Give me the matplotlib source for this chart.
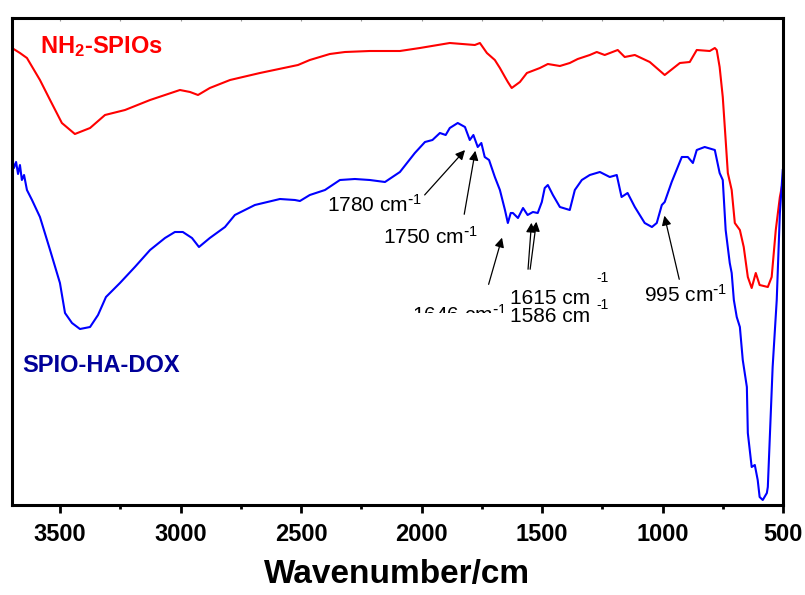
import matplotlib
matplotlib.use("Agg")
import matplotlib.pyplot as plt
from matplotlib.patches import Rectangle
from matplotlib.ticker import MultipleLocator

plt.rcParams['font.family'] = ['Liberation Sans', 'DejaVu Sans']
plt.rcParams['mathtext.default'] = 'regular'

# NH2-SPIOs spectrum (wavenumber, transmittance a.u.)
red_wn = [3700, 3667, 3638, 3584, 3542, 3493, 3439, 3376, 3314, 3231, 3127, 3003, 2961, 2928,
          2879, 2795, 2671, 2513, 2464, 2381, 2318, 2215, 2090, 2007, 1883, 1779, 1758, 1729,
          1696, 1675, 1654, 1642, 1626, 1592, 1563, 1509, 1476, 1426, 1385, 1352, 1302, 1273,
          1240, 1186, 1157, 1115, 1053, 991, 928, 887, 858, 804, 783, 775, 763, 750, 738, 729,
          713, 700, 679, 663, 646, 630, 613, 597, 563, 547, 530, 513, 501]
red_t = [457, 452, 447, 425, 405, 382, 371, 377, 390, 395, 405, 415, 413, 410,
         417, 425, 432, 440, 445, 451, 453, 454, 454, 457, 462, 460, 462, 452,
         445, 437, 428, 423, 417, 423, 432, 437, 441, 439, 442, 446, 450, 453,
         450, 455, 448, 450, 443, 430, 442, 443, 455, 454, 457, 455, 438, 408, 365, 332,
         315, 282, 275, 258, 228, 217, 232, 220, 218, 228, 275, 308, 323]

# SPIO-HA-DOX spectrum
blue_wn = [3700, 3692, 3683, 3675, 3667, 3659, 3650, 3638, 3617, 3584, 3542, 3501, 3480, 3451,
           3418, 3376, 3343, 3310, 3252, 3190, 3127, 3065, 3024, 2991, 2953, 2924, 2879, 2816,
           2775, 2692, 2588, 2526, 2505, 2464, 2401, 2339, 2277, 2215, 2152, 2090, 2028, 1986,
           1955, 1924, 1900, 1883, 1850, 1820, 1800, 1785, 1767, 1752, 1738, 1720, 1696, 1675,
           1654, 1642, 1630, 1621, 1600, 1579, 1560, 1538, 1518, 1501, 1489, 1476, 1455, 1426,
           1385, 1364, 1335, 1302, 1260, 1219, 1190, 1170, 1145, 1115, 1074, 1044, 1024, 1003,
           991, 962, 920, 895, 874, 858, 825, 783, 763, 750, 738, 721, 713, 704, 692, 679, 667,
           650, 646, 630, 617, 605, 597, 584, 567, 563, 543, 526, 513, 501]
blue_t = [348, 337, 343, 331, 340, 325, 330, 315, 305, 288, 255, 222, 192, 182,
          176, 178, 190, 208, 222, 238, 255, 267, 273, 273, 267, 258, 267, 278,
          290, 300, 306, 305, 304, 310, 315, 325, 326, 325, 323, 333, 352, 363,
          365, 372, 370, 377, 382, 378, 365, 370, 358, 362, 348, 345, 328, 315,
          295, 282, 292, 292, 287, 297, 290, 293, 292, 303, 317, 320, 310, 298,
          295, 315, 325, 330, 333, 328, 330, 308, 312, 298, 282, 278, 282, 300,
          303, 323, 348, 348, 342, 355, 358, 355, 332, 325, 275, 242, 232, 205, 188, 178, 145,
          118, 72, 38, 40, 25, 8, 5, 12, 18, 138, 205, 292, 335]

fig = plt.figure(figsize=(8.05, 5.95), dpi=100)
ax = fig.add_axes([12 / 805, 1 - 505 / 595, 771 / 805, 487 / 595])

ax.plot(red_wn, red_t, color='#ff0000', lw=1.5)
ax.plot(blue_wn, blue_t, color='#0000ff', lw=1.5)

ax.set_xlim(3700, 500)
ax.set_ylim(0, 487)
ax.xaxis.set_major_locator(MultipleLocator(500))
ax.xaxis.set_minor_locator(MultipleLocator(250))
ax.set_yticks([])
ax.tick_params(axis='x', which='major', direction='out', length=6, width=2, pad=7,
               labelsize=17)
ax.tick_params(axis='x', which='minor', direction='out', length=3, width=2)
for lab in ax.get_xticklabels():
    lab.set_fontweight('bold')
for s in ax.spines.values():
    s.set_linewidth(2.2)

# faint inner ticks along the top edge
top = ax.secondary_xaxis('top')
top.xaxis.set_major_locator(MultipleLocator(250))
top.tick_params(direction='in', length=2, width=0.8, color='#999999', labeltop=False)
top.spines['top'].set_visible(False)

ax.set_xlabel('Wavenumber/cm', fontsize=24, fontweight='bold', labelpad=9)

ax.text(3584, 458, r'NH$_{2}$-SPIOs', color='#ff0000', fontsize=17, fontweight='bold',
        ha='left', va='center')
ax.text(3659, 140, 'SPIO-HA-DOX', color='#000099', fontsize=17, fontweight='bold',
        ha='left', va='center')

arr = dict(arrowstyle='-|>', color='black', lw=0.9, mutation_scale=14)
ax.annotate('', xy=(1812, 357), xytext=(1995, 308), arrowprops=arr)
ax.annotate('', xy=(1775, 357), xytext=(1825, 288), arrowprops=arr)
ax.annotate('', xy=(1663, 270), xytext=(1725, 218), arrowprops=arr)
ax.annotate('', xy=(1543, 285), xytext=(1559, 233), arrowprops=arr)
ax.annotate('', xy=(1522, 286), xytext=(1551, 233), arrowprops=arr)
ax.annotate('', xy=(995, 292), xytext=(928, 223), arrowprops=arr)

fs = 15
sup = r'$^{\text{-}1}$'
ax.text(2393, 300, '1780 cm' + sup, fontsize=fs, ha='left', va='center')
ax.text(2161, 268, '1750 cm' + sup, fontsize=fs, ha='left', va='center')
t1646 = ax.text(2040, 190, '1646 cm' + sup, fontsize=fs, ha='left', va='center')
t1646.set_clip_on(True)
t1646.set_clip_path(Rectangle((0, 192 / 487), 1, 1, transform=ax.transAxes))
ax.text(1634, 206, '1615 cm', fontsize=fs, ha='left', va='center')
ax.text(1634, 189, '1586 cm', fontsize=fs, ha='left', va='center')
ax.text(1273, 227, '-1', fontsize=10, ha='left', va='center')
ax.text(1273, 200, '-1', fontsize=10, ha='left', va='center')
ax.text(1078, 210, '995 cm' + sup, fontsize=fs, ha='left', va='center')

fig.savefig('out.png', dpi=100)
